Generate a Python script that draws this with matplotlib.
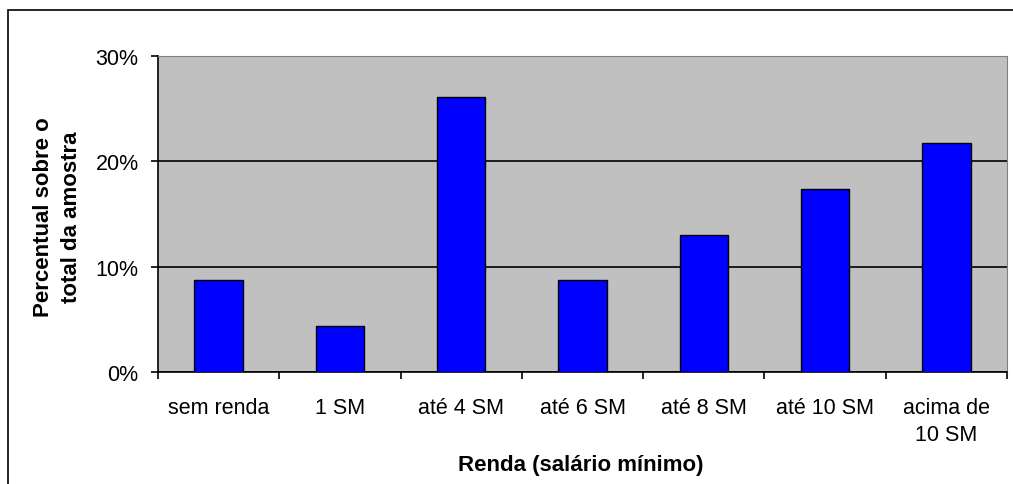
import numpy as np
import matplotlib.pyplot as plt
from matplotlib.patches import Rectangle
from matplotlib.ticker import FuncFormatter

# Distribuição da amostra por faixa de renda
categorias = ["sem renda", "1 SM", "até 4 SM", "até 6 SM", "até 8 SM", "até 10 SM", "acima de\n10 SM"]
percentuais = [8.7, 4.35, 26.1, 8.7, 13.05, 17.4, 21.75]

fs_normal = 15.5
fs_titulo = 16
plt.rcParams["font.family"] = ["Liberation Sans", "DejaVu Sans"]

W, H = 1013, 485
fig = plt.figure(figsize=(W / 100, H / 100), dpi=100)
ax = fig.add_axes([158 / W, 1 - 373 / H, (1007 - 158) / W, (373 - 57) / H])

# moldura externa do gráfico
fig.patches.append(Rectangle((8 / W, -0.1), 1.5, 1 - 11 / H + 0.1,
                             transform=fig.transFigure, facecolor="none",
                             edgecolor="black", linewidth=1.2))

x = np.arange(len(categorias))
ax.set_facecolor("#c0c0c0")
ax.bar(x, percentuais, width=0.4, color="#0000ff", edgecolor="black",
       linewidth=1, zorder=3)

ax.set_xlim(-0.5, len(categorias) - 0.5)
ax.set_ylim(0, 30)
ax.set_yticks([0, 10, 20, 30])
ax.yaxis.set_major_formatter(FuncFormatter(lambda v, p: f"{v:.0f}%"))
ax.grid(axis="y", color="black", linewidth=1.2, zorder=1)

# ticks do eixo x nas divisas entre categorias
ax.set_xticks(np.arange(len(categorias) + 1) - 0.5)
ax.set_xticklabels([])
ax.set_xticks(x, minor=True)
ax.set_xticklabels(categorias, minor=True, fontsize=fs_normal, linespacing=1.4)
ax.tick_params(axis="x", which="minor", length=0, pad=18)
ax.tick_params(axis="x", which="major", length=5, width=1.2, direction="out")
ax.tick_params(axis="y", length=5, width=1.2, labelsize=fs_normal, pad=9)

for lado in ["top", "right"]:
    ax.spines[lado].set_color("#808080")
for lado in ["left", "bottom"]:
    ax.spines[lado].set_color("black")
    ax.spines[lado].set_linewidth(1.2)

fig.text(580.5 / W, 1 - 466 / H, "Renda (salário mínimo)", fontsize=fs_titulo,
         fontweight="bold", ha="center", va="center")
fig.text(57.5 / W, 1 - 217.5 / H, "Percentual sobre o\ntotal da amostra",
         fontsize=fs_titulo, fontweight="bold", rotation=90,
         ha="center", va="center", multialignment="center", linespacing=1.4)

fig.savefig("out.png", dpi=100)
